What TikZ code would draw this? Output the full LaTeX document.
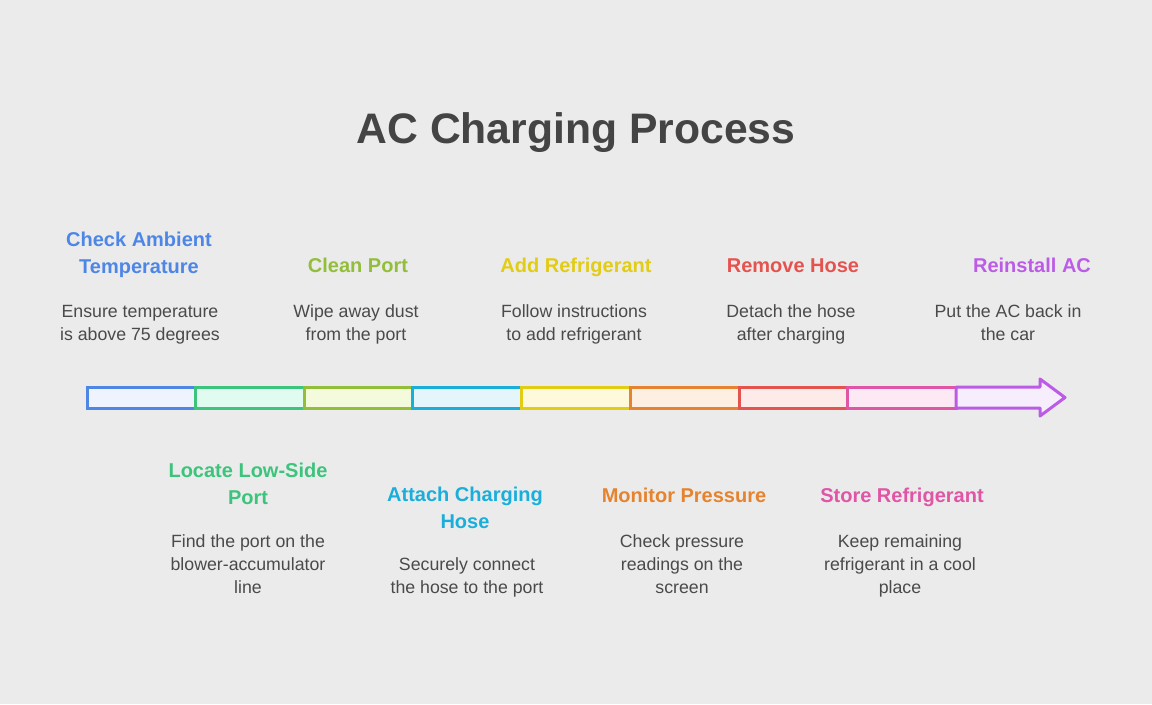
\documentclass[tikz,border=0pt]{standalone}
\usepackage{fontspec}
\setmainfont{Liberation Sans}
\usetikzlibrary{calc}
\definecolor{bgc}{HTML}{EBEBEB}
\definecolor{inkc}{HTML}{444444}
\definecolor{descc}{HTML}{4A4A4A}
\definecolor{cblue}{HTML}{4E86E6}\definecolor{fblue}{HTML}{EEF3FD}
\definecolor{cgreen}{HTML}{3CC47C}\definecolor{fgreen}{HTML}{E0FBEF}
\definecolor{colive}{HTML}{92BE3A}\definecolor{folive}{HTML}{F3FBDC}
\definecolor{ccyan}{HTML}{1AAEDB}\definecolor{fcyan}{HTML}{E4F6FC}
\definecolor{cyell}{HTML}{E2CC14}\definecolor{fyell}{HTML}{FDF9DA}
\definecolor{corange}{HTML}{E5832E}\definecolor{forange}{HTML}{FDEFE2}
\definecolor{cred}{HTML}{E5534F}\definecolor{fred}{HTML}{FDEBEA}
\definecolor{cpink}{HTML}{E055A6}\definecolor{fpink}{HTML}{FDE9F4}
\definecolor{cpurple}{HTML}{BC5CE6}\definecolor{fpurple}{HTML}{F6EEFD}
\def\barseg[#1,#2](#3:#4){\draw[line width=2.25pt, draw=#1, fill=#2] (#3, 387) rectangle (#4, 408);}
\tikzset{
	steptitle/.style={font=\fontsize{15}{20.25}\selectfont\bfseries, align=center, anchor=base, inner sep=0pt},
	stepdesc/.style={font=\fontsize{13.3}{17.25}\selectfont, text=descc, align=center, anchor=base, inner sep=0pt}
}

\begin{document}
\begin{tikzpicture}[x=0.75pt, y=-0.75pt]
			%%%%% START %%%%%
			
			\fill[bgc] (0, 0) rectangle (1152, 704);
			\useasboundingbox (0, 0) rectangle (1152, 704);
			
			\node[font=\fontsize{32}{36}\selectfont\bfseries, text=inkc, anchor=base, inner sep=0pt] (head) at (576, 143) {AC Charging Process};
			
			\barseg[cblue,fblue](87:195)
			\barseg[cgreen,fgreen](195:304)
			\barseg[colive,folive](304:412)
			\barseg[ccyan,fcyan](412:521)
			\barseg[cyell,fyell](521:630)
			\barseg[corange,forange](630:739)
			\barseg[cred,fred](739:847)
			\barseg[cpink,fpink](847:956)
			\draw[line width=2.25pt, draw=cpurple, fill=fpurple, line join=round] (956, 387) -- (1040, 387) -- (1040, 379) -- (1065, 397.5) -- (1040, 416) -- (1040, 408) -- (956, 408) -- cycle;
			
			% base = last line
			\node[steptitle, text=cblue] (checkT) at (139, 273) {Check Ambient\\Temperature};
			\node[stepdesc] (checkD) at (140, 340) {Ensure temperature\\is above 75 degrees};
			
			\node[steptitle, text=colive] (cleanT) at (358, 272) {Clean Port};
			\node[stepdesc] (cleanD) at (356, 340) {Wipe away dust\\from the port};
			
			\node[steptitle, text=cyell] (addT) at (576, 272) {Add Refrigerant};
			\node[stepdesc] (addD) at (574, 340) {Follow instructions\\to add refrigerant};
			
			\node[steptitle, text=cred] (removeT) at (793, 272) {Remove Hose};
			\node[stepdesc] (removeD) at (791, 340) {Detach the hose\\after charging};
			
			\node[steptitle, text=cpurple] (reinstT) at (1032, 272) {Reinstall AC};
			\node[stepdesc] (reinstD) at (1008, 340) {Put the AC back in\\the car};
			
			\node[steptitle, text=cgreen] (locateT) at (248, 504) {Locate Low-Side\\Port};
			\node[stepdesc] (locateD) at (248, 593) {Find the port on the\\blower-accumulator\\line};
			
			\node[steptitle, text=ccyan] (attachT) at (465, 528) {Attach Charging\\Hose};
			\node[stepdesc] (attachD) at (467, 593) {Securely connect\\the hose to the port};
			
			\node[steptitle, text=corange] (monitT) at (684, 502) {Monitor Pressure};
			\node[stepdesc] (monitD) at (682, 593) {Check pressure\\readings on the\\screen};
			
			\node[steptitle, text=cpink] (storeT) at (902, 502) {Store Refrigerant};
			\node[stepdesc] (storeD) at (900, 593) {Keep remaining\\refrigerant in a cool\\place};
			
			%%%%% END %%%%%
\end{tikzpicture}
\end{document}
